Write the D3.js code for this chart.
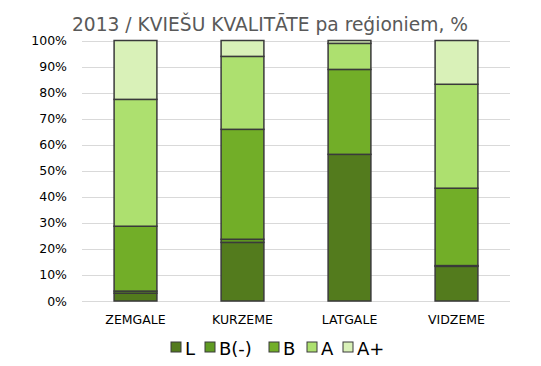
<!DOCTYPE html>
<meta charset="utf-8">
<html>
<head>
    <title>2013 / KVIEŠU KVALITĀTE</title>
    <style>
        body { margin: 0; background: #fff; }
        text { font-family: "DejaVu Sans", Verdana, sans-serif; }
    </style>
</head>
<body>
    <div id="container"></div>
    <script src="https://d3js.org/d3.v7.min.js"></script>
    <script>
        // data (percent of total per region)
        const regions = ["ZEMGALE", "KURZEME", "LATGALE", "VIDZEME"];
        const classes = ["L", "B(-)", "B", "A", "A+"];
        const valL   = [3.0, 22.5, 56.3, 13.3];
        const valBm  = [0.8, 1.2, 0.0, 0.3];
        const valB   = [24.9, 42.2, 32.6, 29.7];
        const valA   = [48.7, 28.0, 10.0, 39.9];
        const valAp  = [22.6, 6.1, 1.1, 16.8];
        const yTicks = [0, 10, 20, 30, 40, 50, 60, 70, 80, 90, 100];
        const colors = ["#537b1d", "#5f9a22", "#72ae28", "#ade06f", "#d9f1b8"];

        const width = 541, height = 366;
        const margin = { top: 40.5, right: 31, bottom: 65, left: 82 };

        const rows = regions.map((r, i) => ({
            region: r,
            "L": valL[i], "B(-)": valBm[i], "B": valB[i], "A": valA[i], "A+": valAp[i]
        }));
        const series = d3.stack().keys(classes)(rows);

        const svg = d3.create("svg")
            .attr("width", width)
            .attr("height", height);

        const x = d3.scaleBand()
            .domain(regions)
            .range([margin.left, width - margin.right])
            .paddingInner(0.6)
            .paddingOuter(0.3);

        const y = d3.scaleLinear()
            .domain([0, 100])
            .range([height - margin.bottom, margin.top]);

        // gridlines
        svg.append("g")
            .selectAll("line")
            .data(yTicks)
            .join("line")
            .attr("x1", margin.left)
            .attr("x2", width - margin.right)
            .attr("y1", d => Math.round(y(d)) + 0.5)
            .attr("y2", d => Math.round(y(d)) + 0.5)
            .attr("stroke", "#d9d9d9")
            .attr("stroke-width", 1);

        // y axis labels
        const yAxis = svg.append("g")
            .attr("transform", `translate(${margin.left - 15},0)`)
            .call(d3.axisLeft(y).tickValues(yTicks).tickFormat(d => d + "%").tickSize(0).tickPadding(0));
        yAxis.select(".domain").remove();
        yAxis.selectAll("text")
            .attr("font-family", "DejaVu Sans, sans-serif")
            .attr("font-size", 12.5)
            .attr("fill", "#000");

        // bars
        svg.append("g")
            .selectAll("g")
            .data(series)
            .join("g")
            .attr("fill", (d, i) => colors[i])
            .selectAll("rect")
            .data(d => d)
            .join("rect")
            .attr("x", d => x(d.data.region))
            .attr("width", x.bandwidth())
            .attr("y", d => y(d[1]))
            .attr("height", d => y(d[0]) - y(d[1]))
            .attr("stroke", "#3a3a3a")
            .attr("stroke-width", 1.5);

        // x axis labels
        const xAxis = svg.append("g")
            .attr("transform", `translate(0,${height - margin.bottom + 12})`)
            .call(d3.axisBottom(x).tickSize(0).tickPadding(0));
        xAxis.select(".domain").remove();
        xAxis.selectAll("text")
            .attr("font-family", "DejaVu Sans, sans-serif")
            .attr("font-size", 12.5)
            .attr("fill", "#000")
            .attr("dy", "0.9em");

        // title
        svg.append("text")
            .attr("x", 72)
            .attr("y", 31)
            .attr("font-size", 19.5)
            .attr("fill", "#595959")
            .attr("textLength", 396)
            .attr("lengthAdjust", "spacingAndGlyphs")
            .text("2013 / KVIEŠU KVALITĀTE pa reģioniem, %");

        // legend
        const legendX = [171, 205, 269, 307, 343];
        const legend = svg.append("g")
            .selectAll("g")
            .data(classes)
            .join("g")
            .attr("transform", (d, i) => `translate(${legendX[i]},342)`);
        legend.append("rect")
            .attr("width", 10)
            .attr("height", 10)
            .attr("fill", (d, i) => colors[i])
            .attr("stroke", "#3a3a3a")
            .attr("stroke-width", 1);
        legend.append("text")
            .attr("x", 14)
            .attr("y", 13)
            .attr("font-size", 18)
            .attr("fill", "#000")
            .text(d => d);

        document.querySelector("#container").appendChild(svg.node());
    </script>
</body>
</html>
